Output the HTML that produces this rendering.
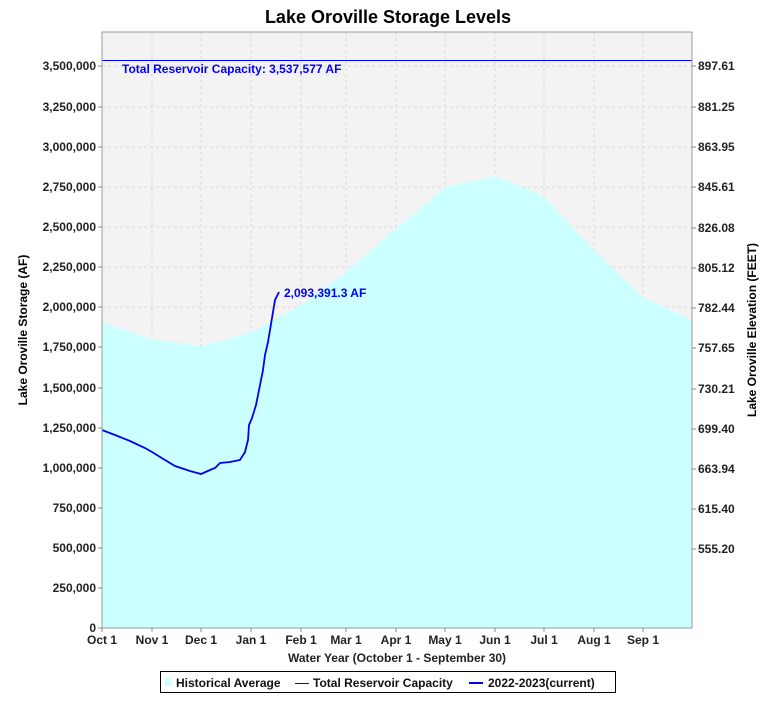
<!DOCTYPE html>
<html><head><style>body{margin:0;background:#fff}svg{font-family:"Liberation Sans",sans-serif}</style></head><body>
<svg width="775" height="700" xmlns="http://www.w3.org/2000/svg">
<rect width="775" height="700" fill="#fff"/>
<text x="388" y="23" text-anchor="middle" font-size="18" font-weight="bold">Lake Oroville Storage Levels</text>
<rect x="102" y="32" width="590" height="596" fill="#f3f3f3"/>
<g stroke="#d8d8d8" stroke-dasharray="3,3" stroke-width="1">
<path d="M152 32V628M201 32V628M251 32V628M301 32V628M346 32V628M396 32V628M445 32V628M495 32V628M544 32V628M594 32V628M643 32V628"/>
<path d="M102 66H692M102 107H692M102 147H692M102 187H692M102 227H692M102 267H692M102 307H692M102 347H692M102 388H692M102 428H692M102 468H692M102 508H692M102 548H692M102 588H692"/>
</g>
<polygon fill="#ccffff" points="102,322 152,339 201,346 251,332 301,305 346,272 396,228 445,187 495,176 544,196 594,250 643,297 692,320 692,628 102,628"/>
<line x1="102" y1="60.5" x2="692" y2="60.5" stroke="#0000ff" stroke-width="1"/>
<text x="122" y="73" font-size="12" font-weight="bold" fill="#0000ff">Total Reservoir Capacity: 3,537,577 AF</text>
<polyline fill="none" stroke="#0000ee" stroke-width="1.8" points="102,430 115,435 130,441 145,448 152,452 165,460 175,466 190,471 201,474 210,470 215,468 220,463 230,462 240,460 245,452 248,440 249,425 252,418 256,405 258,395 260,385 263,370 265,355 268,342 270,330 273,312 275,300 279,292"/>
<text x="284" y="297" font-size="12" font-weight="bold" fill="#0000ff">2,093,391.3 AF</text>
<rect x="102" y="32" width="590" height="596" fill="none" stroke="#999"/>
<g stroke="#888">
<path d="M98 66H102M98 107H102M98 147H102M98 187H102M98 227H102M98 267H102M98 307H102M98 347H102M98 388H102M98 428H102M98 468H102M98 508H102M98 548H102M98 588H102M98 628H102"/>
<path d="M692 66H696M692 107H696M692 147H696M692 187H696M692 228H696M692 268H696M692 308H696M692 348H696M692 389H696M692 429H696M692 469H696M692 509H696M692 549H696"/>
<path d="M102 628V632M152 628V632M201 628V632M251 628V632M301 628V632M346 628V632M396 628V632M445 628V632M495 628V632M544 628V632M594 628V632M643 628V632"/>
</g>
<g font-size="12" font-weight="bold" text-anchor="end" fill="#222">
<text x="96" y="70">3,500,000</text><text x="96" y="111">3,250,000</text><text x="96" y="151">3,000,000</text><text x="96" y="191">2,750,000</text><text x="96" y="231">2,500,000</text><text x="96" y="271">2,250,000</text><text x="96" y="311">2,000,000</text><text x="96" y="351">1,750,000</text><text x="96" y="392">1,500,000</text><text x="96" y="432">1,250,000</text><text x="96" y="472">1,000,000</text><text x="96" y="512">750,000</text><text x="96" y="552">500,000</text><text x="96" y="592">250,000</text><text x="96" y="632">0</text>
</g>
<g font-size="12" font-weight="bold" fill="#222">
<text x="698" y="70">897.61</text><text x="698" y="111">881.25</text><text x="698" y="151">863.95</text><text x="698" y="191">845.61</text><text x="698" y="232">826.08</text><text x="698" y="272">805.12</text><text x="698" y="312">782.44</text><text x="698" y="352">757.65</text><text x="698" y="393">730.21</text><text x="698" y="433">699.40</text><text x="698" y="473">663.94</text><text x="698" y="513">615.40</text><text x="698" y="553">555.20</text>
</g>
<g font-size="12" font-weight="bold" text-anchor="middle" fill="#222">
<text x="102" y="644">Oct 1</text><text x="152" y="644">Nov 1</text><text x="201" y="644">Dec 1</text><text x="251" y="644">Jan 1</text><text x="301" y="644">Feb 1</text><text x="346" y="644">Mar 1</text><text x="396" y="644">Apr 1</text><text x="445" y="644">May 1</text><text x="495" y="644">Jun 1</text><text x="544" y="644">Jul 1</text><text x="594" y="644">Aug 1</text><text x="643" y="644">Sep 1</text>
<text x="397" y="662">Water Year (October 1 - September 30)</text>
</g>
<text transform="translate(27,330) rotate(-90)" font-size="12" font-weight="bold" text-anchor="middle">Lake Oroville Storage (AF)</text>
<text transform="translate(756,330) rotate(-90)" font-size="12" font-weight="bold" text-anchor="middle">Lake Oroville Elevation (FEET)</text>
<rect x="160.5" y="671.5" width="455" height="21" fill="#fff" stroke="#000"/>
<rect x="165" y="678" width="6" height="8" fill="#ccffff"/>
<g font-size="12" font-weight="bold" fill="#111">
<text x="176" y="687">Historical Average</text>
<line x1="295" y1="683.5" x2="309" y2="683.5" stroke="#0000ff"/>
<text x="313" y="687">Total Reservoir Capacity</text>
<line x1="469" y1="683" x2="483" y2="683" stroke="#0000ee" stroke-width="2"/>
<text x="488" y="687">2022-2023(current)</text>
</g>
</svg>
</body></html>
